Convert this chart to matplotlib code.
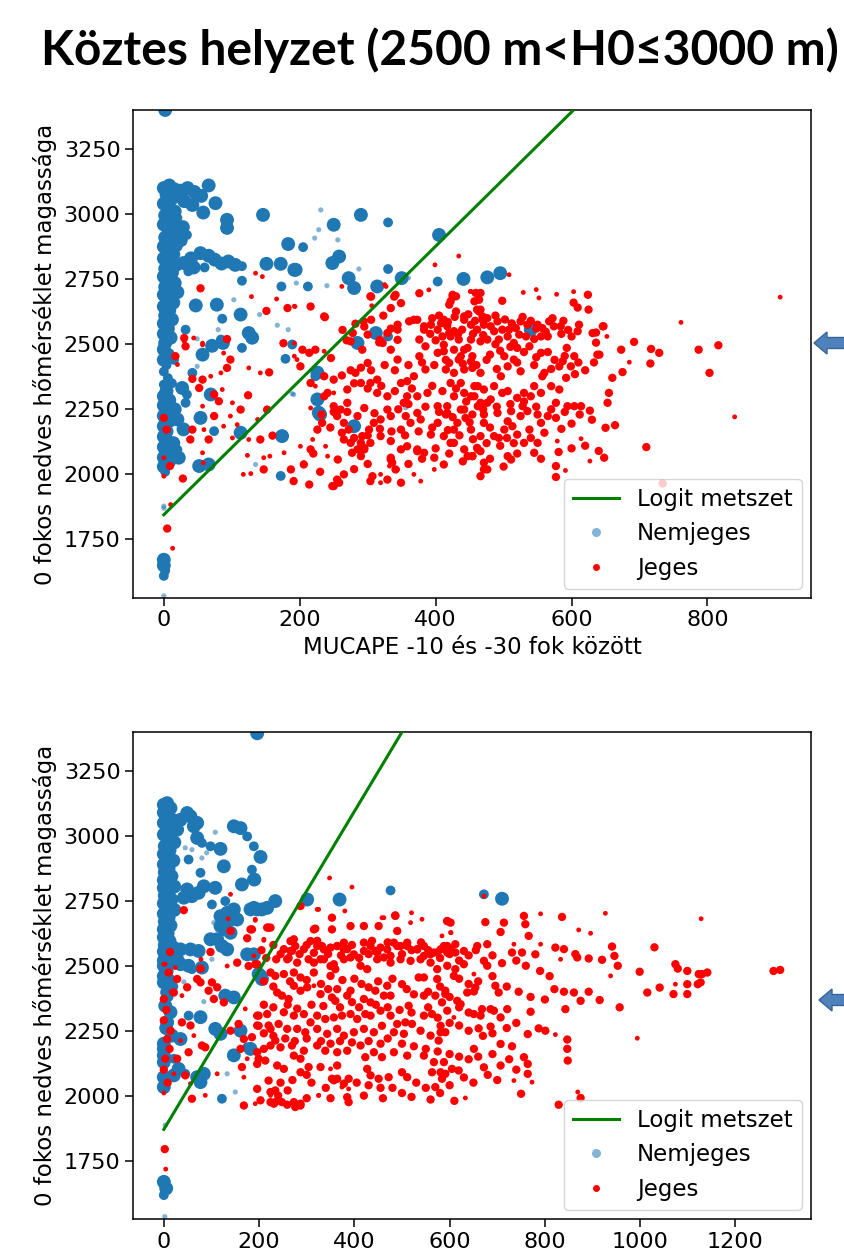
import numpy as np
import matplotlib
matplotlib.use("Agg")
import matplotlib.pyplot as plt
from matplotlib.lines import Line2D
from matplotlib.patches import Polygon

# ── adatok: (MUCAPE, H0, méretosztály) ────────────────────────────────────────

felso_nemjeges = [
    (0, 3100, 3), (8, 3110, 3), (16, 3095, 3), (4, 3075, 3), (12, 3060, 3), (0, 3040, 3), (8, 3025, 3),
    (16, 3010, 3), (2, 2995, 3), (10, 2980, 3), (0, 2960, 3), (6, 2945, 3), (14, 2930, 3), (2, 2910, 3),
    (10, 2895, 3), (0, 2875, 3), (18, 2880, 3), (6, 2860, 3), (14, 2845, 3), (0, 2830, 3), (8, 2815, 3),
    (18, 2805, 3), (2, 2790, 3), (12, 2775, 3), (0, 2760, 3), (8, 2745, 3), (16, 2735, 3), (2, 2720, 3),
    (10, 2705, 3), (0, 2690, 3), (20, 2700, 3), (6, 2675, 3), (14, 2660, 3), (0, 2645, 3), (8, 2630, 3),
    (2, 2610, 3), (12, 2595, 3), (0, 2580, 3), (6, 2560, 3), (0, 2540, 3), (10, 2525, 3), (2, 2505, 3),
    (0, 2480, 3), (6, 2460, 3), (0, 2440, 3), (4, 2420, 2), (0, 2395, 2), (6, 2370, 2), (0, 2345, 2),
    (4, 2320, 3), (0, 2300, 3), (8, 2285, 3), (0, 2265, 3), (4, 2245, 3), (0, 2225, 3), (8, 2205, 3),
    (0, 2185, 3), (4, 2165, 3), (0, 2145, 3), (6, 2125, 3), (0, 2105, 3), (4, 2085, 3), (0, 2065, 3),
    (8, 2050, 3), (0, 2030, 3), (2, 2010, 2), (0, 1878, 1), (0, 1870, 1), (0, 1672, 3), (0, 1650, 3),
    (2, 1630, 2), (0, 1610, 2), (0, 1533, 1), (2, 3400, 3),
    (25, 3090, 3), (35, 3100, 3), (45, 3085, 3), (55, 3070, 3), (66, 3110, 3), (76, 3042, 3), (30, 3050, 3),
    (42, 3035, 3), (58, 3006, 3), (20, 2985, 2), (28, 2950, 3), (25, 2900, 3), (15, 2960, 2), (34, 2920, 2),
    (93, 2978, 3), (93, 2947, 3), (146, 2997, 3), (231, 3016, 1), (290, 2997, 3), (330, 2968, 2),
    (250, 2959, 3), (228, 2940, 1), (222, 2908, 1), (256, 2901, 1), (183, 2885, 3), (205, 2873, 2),
    (248, 2812, 3), (258, 2837, 3), (405, 2920, 3), (330, 2789, 2), (287, 2789, 1), (350, 2754, 3),
    (360, 2755, 1), (441, 2751, 3), (403, 2741, 2), (476, 2757, 3), (495, 2773, 3), (314, 2722, 3),
    (280, 2716, 3), (272, 2754, 3), (240, 2725, 1), (212, 2722, 2), (173, 2722, 2), (195, 2735, 1),
    (194, 2786, 3), (151, 2809, 3), (172, 2809, 3), (192, 2786, 3), (115, 2744, 2),
    (29, 2812, 3), (40, 2830, 3), (54, 2850, 3), (66, 2840, 3), (75, 2825, 3), (85, 2810, 3), (95, 2818, 3),
    (105, 2805, 3), (115, 2800, 2), (44, 2795, 3), (36, 2780, 2), (60, 2795, 2),
    (47, 2649, 3), (78, 2652, 3), (86, 2598, 2), (113, 2614, 3), (103, 2671, 1), (141, 2614, 1),
    (167, 2573, 1), (183, 2556, 1), (125, 2543, 3), (130, 2525, 3), (32, 2556, 2), (80, 2556, 1),
    (49, 2521, 1), (87, 2505, 3), (71, 2494, 3), (285, 2505, 3), (312, 2543, 3), (330, 2530, 2),
    (540, 2556, 3), (439, 2751, 2), (57, 2460, 3), (84, 2518, 2), (115, 2486, 2), (42, 2390, 2),
    (27, 2332, 3), (34, 2307, 2), (32, 2275, 2), (49, 2415, 1), (69, 2307, 3), (54, 2217, 3), (74, 2166, 2),
    (20, 2211, 3), (29, 2173, 3), (10, 2070, 3), (22, 2064, 3), (52, 2032, 3), (66, 2038, 3), (113, 2160, 3),
    (135, 2038, 1), (172, 1994, 2), (174, 2147, 3), (179, 2444, 2), (189, 2499, 2), (226, 2391, 3),
    (226, 2288, 3), (230, 2230, 3), (280, 2185, 3), (189, 2310, 1), (223, 2377, 2), (228, 2237, 3),
    (356, 2256, 1), (403, 2550, 1), (191, 2307, 1), (16, 2250, 3), (14, 2120, 3), (20, 2095, 2),
    (12, 2350, 2), (15, 2440, 2),
]

felso_jeges = [
    (32, 2492, 2), (17, 2454, 2), (20, 2422, 1), (42, 2367, 2), (57, 2364, 2), (52, 2332, 2), (69, 2377, 1),
    (84, 2390, 1), (74, 2307, 2), (81, 2281, 2), (93, 2409, 2), (98, 2441, 2), (88, 2466, 1), (30, 2511, 1),
    (44, 2524, 1), (57, 2498, 1), (0, 2217, 2), (4, 2172, 2), (0, 2064, 1), (0, 1993, 1), (9, 2032, 2),
    (28, 1984, 2), (5, 1792, 2), (13, 1716, 1), (10, 1884, 1), (42, 2172, 2), (39, 2134, 2), (59, 2172, 1),
    (66, 2134, 2), (57, 2083, 1), (58, 2044, 1), (88, 2185, 1), (101, 2140, 1), (108, 2191, 1),
    (124, 2304, 2), (123, 2073, 1), (117, 2000, 1), (128, 2003, 1), (147, 2019, 2), (147, 2064, 1),
    (156, 2070, 1), (160, 2149, 2), (177, 2083, 1), (191, 1974, 2), (142, 2390, 1), (155, 2392, 2),
    (125, 2409, 1), (101, 2275, 1), (152, 2249, 2), (138, 2211, 1), (113, 2249, 2), (86, 2326, 1),
    (74, 2224, 2), (57, 2262, 1), (98, 2224, 1), (125, 2134, 1), (142, 2134, 2),
    (135, 2773, 1), (145, 2760, 1), (54, 2715, 2), (129, 2683, 1), (166, 2674, 1), (151, 2628, 2),
    (182, 2639, 2), (193, 2645, 1), (216, 2645, 2), (237, 2604, 2), (262, 2722, 1), (30, 2524, 2),
    (57, 2504, 1), (93, 2520, 2), (176, 2504, 2), (192, 2504, 1), (263, 2555, 2), (278, 2543, 2),
    (305, 2683, 2), (327, 2722, 1), (339, 2683, 2), (349, 2658, 2), (376, 2696, 2), (390, 2709, 1),
    (399, 2805, 1), (434, 2839, 1), (425, 2683, 2), (442, 2607, 2), (408, 2581, 2), (383, 2556, 2),
    (368, 2594, 2), (329, 2543, 2), (344, 2556, 2), (305, 2594, 2), (295, 2568, 2), (318, 2517, 2),
    (344, 2517, 2),
    (206, 2038, 2), (214, 1961, 2), (248, 1955, 2), (258, 1968, 2), (256, 2057, 2), (241, 2070, 1),
    (265, 2134, 2), (238, 2108, 1), (219, 2134, 1), (307, 1996, 1), (319, 1968, 1), (349, 1968, 2),
    (368, 2000, 1), (378, 1974, 1), (398, 2019, 1), (412, 2038, 2), (398, 2064, 2), (334, 2057, 2),
    (332, 2032, 1), (344, 2019, 1), (290, 2070, 2), (295, 2096, 2), (275, 2121, 2), (358, 2108, 2),
    (373, 2089, 2),
    (325, 2729, 1), (304, 2684, 2), (306, 2648, 1), (341, 2690, 2), (334, 2639, 2), (323, 2610, 2),
    (294, 2588, 2), (282, 2579, 2), (236, 2607, 2), (269, 2515, 2), (275, 2511, 2), (300, 2537, 2),
    (317, 2507, 2), (322, 2505, 2), (334, 2560, 2), (344, 2575, 2), (361, 2588, 2), (373, 2594, 2),
    (383, 2569, 2), (393, 2575, 2), (403, 2556, 2), (412, 2582, 2), (420, 2543, 2), (427, 2550, 2),
    (434, 2518, 2), (442, 2479, 2), (447, 2486, 2), (454, 2454, 2), (464, 2671, 2), (459, 2697, 2),
    (461, 2633, 2), (469, 2594, 2), (452, 2703, 1), (430, 2684, 2), (420, 2652, 2), (427, 2479, 2),
    (434, 2441, 2), (420, 2428, 2), (412, 2473, 2), (403, 2467, 2), (376, 2518, 2), (385, 2492, 2),
    (376, 2454, 2), (385, 2403, 2), (368, 2377, 2), (358, 2358, 2), (344, 2441, 2), (334, 2479, 2),
    (292, 2479, 2), (300, 2428, 2), (282, 2390, 2), (290, 2351, 2), (314, 2364, 2), (304, 2351, 2),
    (314, 2313, 2), (329, 2300, 2), (349, 2351, 2), (358, 2300, 2), (353, 2275, 2), (373, 2300, 2),
    (388, 2313, 2), (403, 2262, 2), (417, 2236, 2), (432, 2198, 2), (442, 2249, 2), (452, 2300, 2),
    (462, 2339, 2), (462, 2262, 2), (476, 2275, 2), (471, 2198, 2), (466, 2147, 2), (452, 2172, 2),
    (403, 2198, 2), (412, 2147, 2), (393, 2153, 2), (378, 2211, 2), (373, 2236, 2), (363, 2198, 2),
    (356, 2224, 2), (349, 2172, 2), (334, 2224, 2), (329, 2249, 2), (319, 2211, 2), (309, 2198, 2),
    (302, 2172, 2), (292, 2147, 2), (285, 2224, 2), (270, 2275, 2), (260, 2249, 2), (250, 2262, 2),
    (236, 2300, 2), (233, 2198, 2), (226, 2172, 2), (216, 2096, 2), (206, 2045, 1), (201, 2108, 1),
    (241, 2313, 2), (250, 2313, 1), (270, 2326, 2), (250, 2364, 2), (236, 2377, 2), (223, 2339, 1),
    (216, 2351, 2), (201, 2415, 2), (196, 2441, 1), (204, 2479, 2), (192, 2454, 1), (214, 2467, 2),
    (223, 2479, 2), (236, 2473, 1), (246, 2447, 2), (192, 2646, 1), (216, 2255, 1), (255, 2224, 2),
    (265, 2198, 2), (272, 2172, 2), (290, 2121, 2), (295, 2102, 2), (285, 2096, 2), (277, 2083, 2),
    (304, 2121, 2), (319, 2147, 2), (334, 2128, 2), (349, 2096, 2), (373, 2096, 2), (383, 2083, 2),
    (427, 2121, 2), (442, 2096, 2), (454, 2070, 2), (462, 2096, 2), (471, 2045, 2), (476, 2019, 2),
    (334, 2064, 2), (336, 2045, 2), (341, 2019, 2), (329, 1980, 2), (304, 1974, 2), (307, 1993, 2),
    (319, 2000, 1), (255, 1980, 2), (250, 1955, 2), (192, 1980, 1), (187, 2019, 2),
    (907, 2681, 1), (761, 2584, 1), (787, 2479, 2), (816, 2496, 2), (803, 2390, 2), (840, 2221, 1),
    (729, 2467, 2), (717, 2482, 2), (692, 2509, 2), (673, 2479, 2), (716, 2426, 2), (685, 2431, 1),
    (675, 2393, 2), (660, 2371, 2), (647, 2569, 2), (652, 2530, 1), (636, 2545, 2), (636, 2506, 2),
    (638, 2460, 2), (633, 2430, 2), (655, 2313, 2), (653, 2275, 2), (627, 2245, 2), (650, 2179, 2),
    (664, 2189, 2), (614, 2137, 1), (710, 2105, 2), (627, 2051, 1), (648, 2064, 2), (591, 2015, 1),
    (577, 2032, 2), (577, 1990, 2), (581, 2086, 2), (579, 2128, 1), (734, 1965, 2), (624, 2690, 2),
    (625, 2633, 2), (603, 2702, 1), (603, 2660, 2), (609, 2641, 2), (578, 2692, 1), (552, 2678, 1),
    (548, 2710, 1), (529, 2699, 1), (498, 2667, 2), (508, 2767, 1), (466, 2633, 2), (469, 2607, 2),
    (451, 2703, 1), (425, 2690, 2), (422, 2665, 2),
    (430, 2626, 2), (412, 2594, 2), (417, 2569, 2), (442, 2594, 2), (452, 2575, 2), (439, 2556, 2),
    (461, 2556, 2), (471, 2575, 2), (481, 2569, 2), (491, 2588, 2), (486, 2550, 2), (498, 2556, 2),
    (508, 2556, 2), (518, 2562, 2), (525, 2588, 2), (535, 2575, 2), (550, 2575, 2), (557, 2562, 2),
    (567, 2588, 2), (574, 2569, 2), (584, 2569, 2), (555, 2530, 2), (565, 2530, 2), (533, 2530, 2),
    (523, 2537, 2), (506, 2530, 2), (493, 2518, 2), (476, 2518, 2), (466, 2511, 2), (452, 2518, 2),
    (422, 2530, 2), (410, 2530, 2), (412, 2498, 2), (466, 2697, 2), (457, 2665, 2), (464, 2626, 2),
    (593, 2486, 2), (609, 2550, 2), (611, 2575, 2), (646, 2569, 2), (631, 2543, 2), (641, 2460, 2),
    (437, 2454, 2), (452, 2434, 2), (415, 2403, 2), (427, 2390, 2), (442, 2403, 2), (454, 2409, 2),
    (466, 2390, 2), (422, 2351, 2), (437, 2351, 2), (457, 2339, 2), (471, 2326, 2), (486, 2339, 2),
    (496, 2377, 2), (506, 2415, 2), (501, 2454, 2), (515, 2441, 2), (525, 2396, 2), (520, 2486, 2),
    (538, 2492, 2), (555, 2467, 2), (557, 2377, 2), (560, 2390, 2), (545, 2339, 2), (530, 2313, 2),
    (520, 2294, 2), (506, 2320, 2), (498, 2313, 2), (481, 2288, 2), (466, 2275, 2), (457, 2300, 2),
    (442, 2313, 2), (427, 2300, 2), (417, 2262, 2), (437, 2249, 2), (454, 2230, 2), (471, 2230, 2),
    (491, 2236, 2), (511, 2243, 2), (528, 2262, 2), (540, 2300, 2), (555, 2313, 2), (570, 2339, 2),
    (582, 2326, 2), (582, 2415, 2), (587, 2435, 2), (599, 2415, 2), (592, 2371, 2), (604, 2454, 2),
    (594, 2262, 2), (604, 2262, 2), (614, 2262, 2), (577, 2275, 2), (565, 2224, 2), (550, 2230, 2),
    (535, 2243, 2),
    (427, 2172, 2), (444, 2217, 2), (422, 2121, 2), (447, 2070, 2), (454, 2070, 2), (461, 2102, 2),
    (466, 2089, 2), (471, 2019, 2), (466, 1993, 2), (486, 2147, 2), (493, 2140, 2), (501, 2172, 2),
    (506, 2204, 2), (513, 2185, 2), (525, 2224, 2), (520, 2153, 2), (538, 2172, 2), (530, 2121, 2),
    (550, 2121, 2), (545, 2083, 2), (511, 2057, 2), (506, 2070, 2), (555, 2198, 2), (577, 2217, 2),
    (412, 2038, 1), (415, 2230, 2),
    (395, 2600, 2), (405, 2610, 2), (418, 2585, 2), (428, 2605, 2), (448, 2615, 2), (458, 2590, 2),
    (476, 2600, 2), (488, 2610, 2), (502, 2595, 2), (512, 2580, 2), (528, 2605, 2), (540, 2590, 2),
    (548, 2560, 2), (562, 2548, 2), (572, 2600, 2), (588, 2590, 2), (595, 2555, 2), (600, 2530, 2),
    (585, 2540, 2), (545, 2520, 2), (515, 2505, 2), (488, 2500, 2), (470, 2535, 2), (455, 2540, 2),
    (433, 2540, 2), (400, 2515, 2), (392, 2540, 2), (480, 2460, 2), (495, 2475, 2), (510, 2490, 2),
    (530, 2470, 2), (548, 2450, 2), (565, 2470, 2), (575, 2440, 2), (590, 2455, 2), (610, 2430, 2),
    (620, 2400, 2), (605, 2385, 2), (570, 2405, 2), (545, 2420, 2), (520, 2430, 2), (490, 2405, 2),
    (475, 2440, 2), (460, 2420, 2), (440, 2425, 2), (415, 2440, 2), (398, 2420, 2), (380, 2430, 2),
    (360, 2420, 2), (340, 2400, 2), (325, 2420, 2), (305, 2400, 2), (290, 2410, 2), (275, 2400, 2),
    (262, 2380, 2), (280, 2350, 2), (300, 2330, 2), (320, 2340, 2), (340, 2320, 2), (365, 2330, 2),
    (395, 2340, 2), (410, 2320, 2), (430, 2330, 2), (445, 2280, 2), (470, 2250, 2), (490, 2260, 2),
    (510, 2270, 2), (530, 2280, 2), (548, 2260, 2), (570, 2250, 2), (590, 2240, 2), (612, 2230, 2),
    (630, 2210, 2), (600, 2195, 2), (585, 2175, 2), (560, 2160, 2), (540, 2140, 2), (515, 2120, 2),
    (495, 2110, 2), (475, 2120, 2), (455, 2135, 2), (435, 2150, 2), (418, 2170, 2), (395, 2180, 2),
    (375, 2165, 2), (355, 2150, 2), (335, 2165, 2), (318, 2175, 2), (300, 2150, 2), (280, 2140, 2),
    (262, 2160, 2), (245, 2180, 2), (232, 2230, 2), (250, 2240, 2), (270, 2240, 2), (295, 2255, 2),
    (310, 2235, 2), (345, 2250, 2), (360, 2270, 2), (385, 2260, 2), (405, 2240, 2), (425, 2220, 2),
    (450, 2200, 2), (480, 2180, 2), (505, 2140, 2), (400, 2100, 2), (420, 2080, 2), (440, 2050, 2),
    (480, 2060, 2), (500, 2030, 2), (520, 2080, 2), (555, 2060, 2), (600, 2100, 2), (620, 2110, 2),
    (640, 2090, 2), (360, 2040, 2), (380, 2060, 2), (300, 2040, 2), (280, 2020, 2), (265, 2000, 2),
    (230, 2010, 2), (220, 2080, 2),
]

also_nemjeges = [
    (0, 3120, 3), (7, 3126, 3), (14, 3107, 3), (0, 3090, 3), (10, 3075, 3), (20, 3060, 3), (0, 3050, 3),
    (8, 3035, 3), (18, 3020, 3), (0, 3005, 3), (10, 2990, 3), (22, 2975, 3), (2, 2960, 3), (12, 2945, 3),
    (0, 2930, 3), (8, 2915, 3), (20, 2905, 3), (0, 2890, 3), (10, 2875, 3), (2, 2860, 3), (16, 2845, 3),
    (0, 2830, 3), (8, 2815, 3), (22, 2805, 3), (0, 2800, 3), (10, 2785, 3), (2, 2770, 3), (16, 2755, 3),
    (0, 2740, 3), (8, 2725, 3), (22, 2715, 3), (0, 2700, 3), (10, 2685, 3), (2, 2670, 3), (14, 2655, 3),
    (0, 2640, 3), (8, 2625, 3), (0, 2610, 3), (12, 2595, 3), (2, 2580, 3), (20, 2570, 3), (0, 2555, 3),
    (8, 2540, 3), (0, 2520, 3), (14, 2510, 3), (0, 2500, 3), (6, 2480, 3), (0, 2460, 3), (10, 2445, 3),
    (0, 2436, 3), (7, 2398, 3), (3, 2346, 3), (14, 2321, 3), (7, 2282, 3), (17, 2231, 3), (35, 2218, 3),
    (0, 2200, 3), (0, 2180, 3), (0, 2155, 3), (0, 2129, 3), (21, 2142, 2), (31, 2103, 3), (0, 2071, 3),
    (0, 2033, 3), (21, 2078, 3), (45, 2084, 2), (70, 2071, 3), (77, 2052, 3), (84, 2084, 3), (52, 2308, 2),
    (77, 2302, 3), (129, 2385, 3), (147, 2378, 3), (108, 2257, 3), (119, 2238, 3), (161, 2250, 3),
    (147, 2155, 3), (175, 2186, 2), (133, 2084, 1), (122, 1988, 2), (150, 2014, 1), (84, 2362, 1),
    (42, 2438, 1), (3, 1886, 1), (0, 1668, 3), (5, 1643, 3), (0, 1617, 2), (2, 1534, 1), (199, 2468, 3),
    (206, 2449, 3), (182, 2180, 3), (189, 2544, 3), (203, 2461, 3), (35, 2506, 3), (52, 2500, 3),
    (80, 2493, 3), (10, 2380, 2), (20, 2420, 2), (5, 2260, 3),
    (196, 3395, 3), (49, 3088, 3), (56, 3075, 3), (70, 3050, 3), (35, 3062, 3), (63, 3037, 3), (28, 3024, 3),
    (70, 2992, 3), (80, 2973, 2), (98, 2960, 2), (108, 3014, 1), (147, 3037, 3), (161, 3030, 3),
    (175, 2998, 2), (189, 2960, 2), (203, 2919, 3), (119, 2950, 3), (126, 2883, 3), (77, 2858, 2),
    (185, 2870, 2), (190, 2832, 3), (164, 2813, 3), (108, 2800, 3), (84, 2806, 3), (73, 2781, 3),
    (59, 2768, 3), (49, 2794, 3), (42, 2762, 3), (45, 2954, 1), (59, 2947, 1), (80, 2915, 1), (90, 2935, 1),
    (52, 2909, 2), (129, 2749, 2), (101, 2736, 2), (147, 2717, 3), (133, 2704, 3), (182, 2717, 3),
    (196, 2717, 3), (206, 2717, 3), (234, 2749, 3), (119, 2691, 3), (140, 2678, 3), (154, 2678, 3),
    (119, 2653, 3), (129, 2640, 3), (140, 2627, 3), (105, 2666, 1), (98, 2602, 3), (112, 2602, 3),
    (122, 2576, 3), (133, 2563, 3), (175, 2544, 3), (73, 2557, 3), (56, 2563, 3), (35, 2563, 3),
    (3, 2531, 3), (28, 2525, 3), (59, 2487, 2), (101, 2525, 1), (301, 2755, 3), (369, 2755, 3),
    (476, 2790, 2), (672, 2775, 2), (710, 2758, 3), (189, 2723, 3), (217, 2723, 3), (185, 2832, 2),
]

also_jeges = [
    (0, 2506, 1), (10, 2474, 2), (28, 2449, 2), (0, 2372, 2), (21, 2397, 2), (38, 2385, 1), (49, 2417, 2),
    (70, 2449, 2), (77, 2436, 2), (101, 2436, 2), (112, 2417, 2), (94, 2404, 2), (105, 2372, 2),
    (126, 2359, 2), (38, 2282, 2), (56, 2270, 2), (14, 2250, 2), (7, 2218, 2), (35, 2212, 1), (63, 2231, 1),
    (80, 2193, 2), (87, 2186, 2), (52, 2167, 2), (28, 2142, 2), (3, 2142, 2), (21, 2084, 1), (45, 2078, 2),
    (56, 2046, 1), (59, 1988, 2), (87, 2001, 1), (112, 2084, 1), (140, 2250, 2), (157, 2276, 2),
    (171, 2334, 1), (168, 2218, 2), (161, 2180, 2), (185, 2225, 2), (175, 2142, 1), (164, 2110, 2),
    (168, 2071, 1), (199, 2142, 2), (196, 2270, 2), (199, 2308, 2), (220, 2270, 2), (224, 2193, 2),
    (217, 2059, 1), (224, 2001, 1), (234, 2020, 2), (168, 1962, 2), (192, 1969, 1), (203, 1982, 2),
    (224, 1975, 2), (231, 1969, 2), (248, 1975, 2), (259, 1965, 2), (276, 1956, 2), (287, 1962, 2),
    (325, 2001, 1), (357, 2059, 2), (374, 2033, 1), (385, 1994, 1), (385, 1975, 1), (388, 2065, 2),
    (350, 2103, 1), (364, 2116, 2), (2, 1794, 2), (4, 1717, 1), (5, 2330, 2), (0, 2290, 2), (12, 2180, 2),
    (0, 2100, 2), (8, 2050, 2), (0, 2010, 1), (15, 2400, 1),
    (348, 2838, 1), (395, 2803, 1), (140, 2775, 1), (42, 2714, 2), (135, 2681, 1), (192, 2675, 1),
    (288, 2730, 1), (325, 2717, 1), (353, 2685, 2), (318, 2643, 2), (392, 2653, 2), (420, 2653, 2),
    (451, 2653, 2), (462, 2685, 1), (486, 2694, 2), (520, 2704, 1), (542, 2679, 1), (595, 2672, 2),
    (603, 2627, 1), (140, 2634, 2), (182, 2640, 2), (217, 2647, 2), (224, 2647, 2), (175, 2606, 2),
    (210, 2598, 1), (98, 2553, 2), (78, 2525, 1), (13, 2553, 2), (3, 2506, 1), (133, 2499, 1),
    (154, 2512, 2), (178, 2499, 2), (196, 2506, 2), (236, 2525, 2), (266, 2557, 2), (273, 2602, 2),
    (308, 2595, 2), (322, 2576, 2), (336, 2563, 2), (350, 2570, 2), (364, 2576, 2), (378, 2563, 2),
    (315, 2512, 2), (329, 2525, 2), (350, 2499, 2), (378, 2589, 2), (420, 2589, 2), (434, 2576, 2),
    (448, 2551, 2), (469, 2563, 2), (483, 2589, 2), (497, 2576, 2), (511, 2589, 2), (532, 2563, 2),
    (546, 2576, 2), (567, 2551, 2), (581, 2563, 2), (595, 2576, 2), (612, 2551, 2), (24, 2493, 1),
    (77, 2489, 2), (189, 2538, 1),
    (287, 2730, 2), (322, 2717, 1), (380, 2711, 1), (486, 2692, 2), (192, 2679, 1), (220, 2647, 2),
    (185, 2640, 2), (210, 2602, 1), (266, 2595, 2), (315, 2640, 2), (353, 2640, 2), (490, 2634, 2),
    (518, 2666, 1), (584, 2615, 1), (458, 2685, 1),
    (322, 2596, 2), (332, 2576, 2), (364, 2576, 2), (385, 2564, 2), (399, 2544, 2), (420, 2557, 2),
    (437, 2596, 2), (444, 2557, 2), (476, 2538, 2), (490, 2576, 2), (511, 2576, 2), (532, 2564, 2),
    (546, 2538, 2), (560, 2544, 2), (574, 2551, 2), (588, 2576, 2), (602, 2564, 2), (252, 2564, 2),
    (269, 2557, 2), (276, 2576, 2), (294, 2564, 2), (259, 2525, 2), (280, 2512, 2), (304, 2525, 2),
    (336, 2525, 2), (357, 2506, 2), (378, 2525, 2), (392, 2532, 2), (413, 2500, 2), (427, 2487, 2),
    (448, 2525, 2), (462, 2532, 2), (476, 2512, 2), (497, 2525, 2), (518, 2519, 2), (539, 2525, 2),
    (560, 2512, 2), (574, 2487, 2), (595, 2500, 2),
    (192, 2506, 2), (224, 2474, 2), (234, 2461, 2), (252, 2468, 2), (273, 2474, 2), (287, 2455, 2),
    (315, 2474, 2), (350, 2461, 2), (360, 2487, 2), (315, 2423, 1), (273, 2423, 2), (301, 2417, 2),
    (364, 2410, 2), (392, 2404, 2), (430, 2417, 2), (444, 2404, 2), (469, 2423, 2), (500, 2429, 2),
    (535, 2455, 2), (546, 2455, 2), (574, 2449, 2), (591, 2404, 2), (238, 2397, 2), (248, 2385, 2),
    (262, 2372, 2), (287, 2404, 2), (329, 2391, 2), (353, 2378, 2), (360, 2365, 2), (385, 2385, 2),
    (420, 2372, 2), (434, 2359, 2), (462, 2385, 2), (476, 2385, 2), (514, 2346, 2), (546, 2385, 2),
    (570, 2385, 2), (584, 2359, 2), (595, 2327, 2),
    (196, 2308, 2), (217, 2314, 2), (252, 2321, 2), (273, 2308, 2), (294, 2314, 2), (308, 2282, 2),
    (322, 2308, 2), (339, 2295, 2), (357, 2301, 2), (374, 2308, 2), (392, 2314, 2), (406, 2295, 2),
    (423, 2314, 2), (434, 2308, 2), (455, 2327, 2), (476, 2308, 2), (490, 2276, 2), (507, 2282, 2),
    (521, 2276, 2), (546, 2308, 2), (563, 2314, 2), (581, 2269, 2), (591, 2244, 2), (199, 2269, 2),
    (224, 2257, 2), (241, 2276, 2), (259, 2257, 2), (280, 2257, 2), (297, 2244, 2), (322, 2257, 2),
    (343, 2238, 2), (364, 2257, 2), (378, 2231, 2), (399, 2244, 2), (420, 2257, 2), (441, 2244, 2),
    (458, 2269, 2), (483, 2244, 2), (504, 2238, 2), (539, 2250, 2), (560, 2231, 2), (577, 2212, 2),
    (196, 2167, 2), (210, 2180, 2), (234, 2212, 2), (245, 2186, 2), (269, 2193, 2), (294, 2173, 2),
    (273, 2154, 2), (287, 2142, 2), (322, 2193, 2), (339, 2173, 2), (364, 2167, 2), (385, 2173, 2),
    (413, 2193, 2), (423, 2148, 2), (441, 2167, 2), (458, 2148, 2), (483, 2167, 2), (511, 2154, 2),
    (546, 2154, 2), (567, 2129, 2), (581, 2090, 2), (196, 2122, 2), (213, 2135, 2), (238, 2116, 2),
    (252, 2103, 2), (287, 2090, 2), (304, 2110, 2), (329, 2110, 2), (353, 2065, 2), (364, 2065, 2),
    (378, 2046, 2), (388, 2026, 1), (427, 2103, 2), (434, 2078, 2), (451, 2065, 2), (472, 2071, 2),
    (500, 2090, 2), (511, 2071, 2), (563, 2090, 2), (570, 2033, 2), (584, 2065, 2), (196, 2026, 2),
    (220, 2058, 2), (224, 2014, 2), (234, 1975, 2), (273, 1975, 2), (287, 1969, 2), (325, 2001, 1),
    (385, 1994, 2), (388, 1975, 2),
    (672, 2768, 1), (791, 2700, 1), (927, 2702, 1), (1128, 2681, 1), (836, 2688, 2), (756, 2692, 2),
    (759, 2660, 2), (714, 2666, 2), (707, 2630, 2), (675, 2668, 2), (595, 2672, 2), (602, 2666, 2),
    (602, 2628, 1), (658, 2576, 2), (679, 2583, 2), (612, 2583, 2), (630, 2557, 2), (595, 2551, 2),
    (735, 2583, 1), (731, 2551, 2), (752, 2551, 2), (780, 2544, 2), (766, 2615, 2), (791, 2583, 1),
    (822, 2570, 2), (840, 2564, 2), (833, 2525, 1), (864, 2545, 2), (868, 2532, 2), (892, 2528, 2),
    (920, 2523, 2), (941, 2574, 2), (946, 2538, 2), (953, 2500, 2), (896, 2625, 1), (871, 2638, 1),
    (1030, 2571, 2), (999, 2477, 2), (938, 2461, 1), (1074, 2506, 2), (1079, 2489, 2), (1070, 2391, 2),
    (1099, 2480, 2), (1099, 2429, 2), (1099, 2391, 2), (1123, 2468, 2), (1121, 2429, 2), (1140, 2477, 1),
    (1074, 2429, 1), (1041, 2416, 2), (1015, 2397, 2), (1280, 2480, 2), (1294, 2484, 2), (994, 2221, 1),
    (861, 2397, 2), (892, 2400, 2), (915, 2368, 2), (875, 2365, 2), (957, 2340, 2), (843, 2333, 2),
    (822, 2235, 1), (847, 2216, 2), (847, 2180, 2), (848, 2135, 2), (787, 2259, 2), (801, 2250, 2),
    (764, 2237, 2), (770, 2323, 2), (731, 2190, 2), (707, 2199, 2), (707, 2301, 2), (693, 2327, 2),
    (686, 2333, 2), (665, 2308, 2), (651, 2314, 2), (686, 2266, 2), (661, 2259, 2), (651, 2180, 2),
    (672, 2109, 2), (707, 2116, 2), (756, 2148, 2), (764, 2122, 2), (764, 2084, 2), (773, 2052, 1),
    (735, 2058, 1), (750, 2007, 2), (633, 1991, 1), (869, 2014, 1), (875, 1991, 2), (829, 1965, 2),
    (605, 2103, 2), (619, 2097, 2), (591, 2084, 2), (654, 2416, 2), (651, 2401, 2), (696, 2423, 2),
    (703, 2397, 2), (637, 2397, 2), (616, 2365, 2), (623, 2352, 2), (591, 2391, 2), (672, 2519, 2),
    (679, 2500, 2), (651, 2468, 1), (612, 2487, 2), (609, 2461, 2), (630, 2506, 2), (609, 2301, 1),
    (581, 2244, 2), (588, 2129, 2), (668, 2333, 2), (721, 2333, 2), (1141, 2474, 2), (1130, 2468, 2),
    (1127, 2436, 2),
    (205, 2560, 2), (215, 2530, 2), (230, 2580, 2), (245, 2545, 2), (262, 2530, 2), (285, 2545, 2),
    (300, 2580, 2), (315, 2550, 2), (345, 2545, 2), (372, 2540, 2), (395, 2580, 2), (410, 2530, 2),
    (430, 2545, 2), (455, 2570, 2), (470, 2590, 2), (500, 2545, 2), (520, 2560, 2), (540, 2590, 2),
    (555, 2560, 2), (580, 2530, 2), (600, 2545, 2), (620, 2520, 2), (640, 2540, 2), (655, 2560, 2),
    (690, 2540, 2), (710, 2510, 2), (740, 2520, 2), (760, 2500, 2), (790, 2480, 2), (810, 2460, 2),
    (620, 2450, 2), (640, 2430, 2), (660, 2440, 2), (690, 2460, 2), (720, 2420, 2), (745, 2400, 2),
    (770, 2380, 2), (800, 2370, 2), (820, 2410, 2), (840, 2400, 2), (210, 2440, 2), (230, 2420, 2),
    (265, 2440, 2), (300, 2445, 2), (330, 2430, 2), (345, 2410, 2), (375, 2445, 2), (400, 2450, 2),
    (415, 2430, 2), (450, 2440, 2), (480, 2450, 2), (510, 2410, 2), (525, 2390, 2), (555, 2400, 2),
    (580, 2420, 2), (600, 2380, 2), (620, 2340, 2), (640, 2320, 2), (210, 2350, 2), (230, 2340, 2),
    (260, 2350, 2), (280, 2335, 2), (310, 2350, 2), (335, 2345, 2), (370, 2340, 2), (395, 2360, 2),
    (410, 2340, 2), (445, 2350, 2), (470, 2340, 2), (495, 2330, 2), (520, 2320, 2), (555, 2340, 2),
    (575, 2300, 2), (600, 2280, 2), (620, 2270, 2), (640, 2250, 2), (670, 2230, 2), (690, 2240, 2),
    (720, 2260, 2), (740, 2280, 2), (210, 2240, 2), (230, 2230, 2), (255, 2220, 2), (275, 2210, 2),
    (300, 2220, 2), (330, 2210, 2), (350, 2200, 2), (370, 2210, 2), (395, 2205, 2), (430, 2210, 2),
    (455, 2200, 2), (470, 2220, 2), (500, 2200, 2), (525, 2190, 2), (550, 2180, 2), (575, 2170, 2),
    (600, 2160, 2), (620, 2150, 2), (640, 2140, 2), (660, 2150, 2), (690, 2160, 2), (725, 2140, 2),
    (740, 2100, 2), (700, 2060, 2), (680, 2080, 2), (650, 2050, 2), (630, 2070, 2), (600, 2040, 2),
    (580, 2010, 2), (550, 2030, 2), (530, 2050, 2), (500, 2010, 2), (480, 2030, 2), (455, 2030, 2),
    (430, 2040, 2), (405, 2050, 2), (340, 2030, 2), (310, 2050, 2), (300, 2080, 2), (270, 2060, 2),
    (245, 2050, 2), (260, 2020, 2), (300, 1990, 2), (240, 2000, 2), (350, 1990, 2), (420, 2000, 2),
    (460, 1990, 2), (520, 1995, 2), (560, 1985, 2), (610, 1980, 2),
]

# logit határvonal: (tengelymetszet, meredekség)
felso_logit = (1845, 2.579)
also_logit = (1870, 3.06)

felso_xticks = [0, 200, 400, 600, 800]
also_xticks = [0, 200, 400, 600, 800, 1000, 1200]
yticks = [1750, 2000, 2250, 2500, 2750, 3000, 3250]

# ── stílus ────────────────────────────────────────────────────────────────────

KEK = (0.122, 0.467, 0.706)
PIROS = "red"
KEK_S = {1: 14, 2: 50, 3: 100}
PIROS_S = {1: 12, 2: 36}

plt.rcParams["font.size"] = 16
plt.rcParams["axes.linewidth"] = 1.1

W, H = 844, 1253
fig = plt.figure(figsize=(W / 100, H / 100), dpi=100, facecolor="white")


def kibont(pontok):
    a = np.array(pontok, float)
    return a[:, 0], a[:, 1], a[:, 2].astype(int)


def panel(ax, kek, piros, logit, xticks):
    bx, by, bk = kibont(kek)
    rx, ry, rk = kibont(piros)
    xmax = max(bx.max(), rx.max())
    xs = np.array([0, xmax])
    ax.plot(xs, logit[0] + logit[1] * xs, color="green", lw=2.2, zorder=3)
    kek_c = [(*KEK, 0.55 if k == 1 else 1.0) for k in bk]
    ax.scatter(bx, by, s=[KEK_S[k] for k in bk], c=kek_c, linewidths=0, zorder=1)
    ax.scatter(rx, ry, s=[PIROS_S[k] for k in rk], color=PIROS, linewidths=0, zorder=2)
    ax.set_xlim(-0.05 * xmax, 1.05 * xmax)
    ax.set_ylim(1525, 3400)
    ax.set_xticks(xticks)
    ax.set_yticks(yticks)
    ax.tick_params(length=5.5, width=1.1, labelsize=16)
    ax.set_ylabel("0 fokos nedves hőmérséklet magassága", fontsize=16.5, labelpad=5)
    handles = [
        Line2D([], [], color="green", lw=2.2),
        Line2D([], [], ls="", marker="o", ms=6.5, color=KEK, alpha=0.55, markeredgewidth=0),
        Line2D([], [], ls="", marker="o", ms=5, color=PIROS, markeredgewidth=0),
    ]
    ax.legend(handles, ["Logit metszet", "Nemjeges", "Jeges"], loc="lower right",
              fontsize=16.5, framealpha=0.8, borderaxespad=0.4, handlelength=2.0)


ax1 = fig.add_axes([133 / W, 1 - 598 / H, 678 / W, 488 / H])
panel(ax1, felso_nemjeges, felso_jeges, felso_logit, felso_xticks)
ax1.set_xlabel("MUCAPE -10 és -30 fok között", fontsize=16.5)

ax2 = fig.add_axes([133 / W, 1 - 1219 / H, 678 / W, 487 / H])
panel(ax2, also_nemjeges, also_jeges, also_logit, also_xticks)

fig.text(440 / W, 1 - 50 / H, "Köztes helyzet (2500 m<H0≤3000 m)", ha="center", va="center",
         fontsize=34.5, fontweight="bold", family=["Lato", "DejaVu Sans"])

# kék nyilak a jobb szélen
for tip_x, tip_y in [(814, 343), (819, 1000)]:
    pts = [(tip_x, tip_y), (tip_x + 13, tip_y - 11), (tip_x + 13, tip_y - 5.5), (W + 5, tip_y - 5.5),
           (W + 5, tip_y + 5.5), (tip_x + 13, tip_y + 5.5), (tip_x + 13, tip_y + 11)]
    pts = [(px / W, 1 - py / H) for px, py in pts]
    fig.patches.append(Polygon(pts, closed=True, transform=fig.transFigure,
                               facecolor="#4f81bd", edgecolor="#3a6494", lw=1))

fig.savefig("out.png", dpi=100)
